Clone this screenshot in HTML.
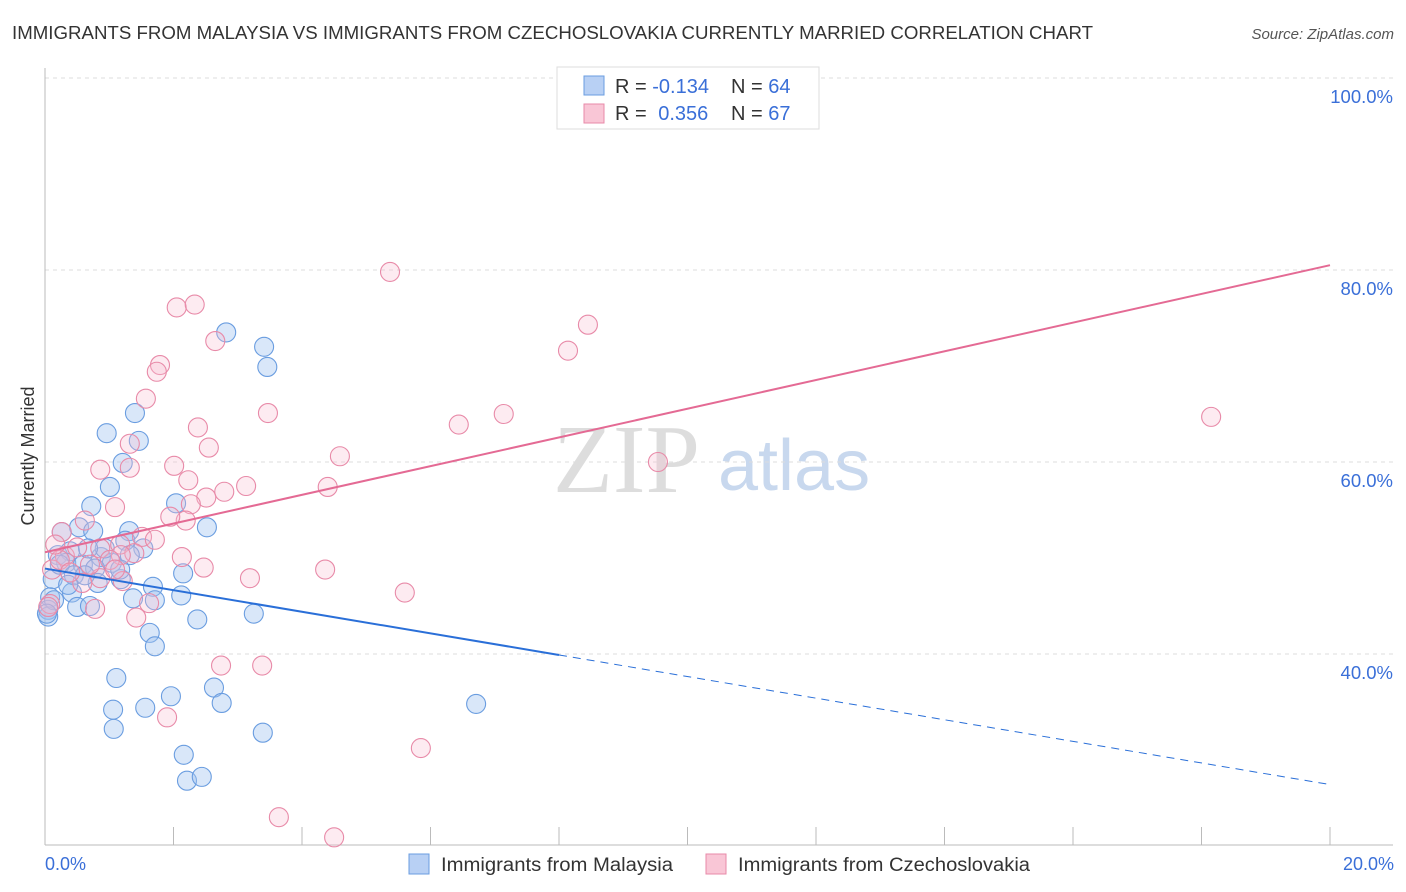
<!DOCTYPE html>
<html><head><meta charset="utf-8"><style>
body{margin:0;background:#fff;font-family:"Liberation Sans",sans-serif;}
svg{display:block}
</style></head><body>
<svg id="c" width="1406" height="892" xmlns="http://www.w3.org/2000/svg">
<text x="12" y="39" font-size="18" fill="#333" textLength="1081" lengthAdjust="spacingAndGlyphs">IMMIGRANTS FROM MALAYSIA VS IMMIGRANTS FROM CZECHOSLOVAKIA CURRENTLY MARRIED CORRELATION CHART</text>
<text x="1394" y="39" font-size="15" fill="#555" font-style="italic" text-anchor="end">Source: ZipAtlas.com</text>
<g>
<text x="553" y="492" font-size="98" font-family="Liberation Serif,serif" fill="#ddd">ZIP</text>
<text x="718" y="490" font-size="72" fill="#c8d8ee">atlas</text>
</g>
<g id="grid"></g>
<g id="axes"></g>
<g id="pts"></g>
<g id="trend"></g>
<text transform="translate(34,456) rotate(-90)" font-size="18" fill="#333" text-anchor="middle">Currently Married</text>
<text x="45" y="870" font-size="18" fill="#3a6fd8">0.0%</text>
<text x="1394" y="870" font-size="18" fill="#3a6fd8" text-anchor="end">20.0%</text>
<g>
<rect x="557" y="67" width="262" height="62" fill="#fff" stroke="#ddd"/>
<rect x="584" y="76" width="20" height="19" fill="#b8d0f4" stroke="#6a9de0"/>
<rect x="584" y="104" width="20" height="19" fill="#f9c6d6" stroke="#e88aa8"/>
<text x="615" y="93" font-size="20" fill="#333">R = <tspan fill="#3a6fd8">-0.134</tspan></text>
<text x="731" y="93" font-size="20" fill="#333">N = <tspan fill="#3a6fd8">64</tspan></text>
<text x="615" y="120" font-size="20" fill="#333">R = <tspan fill="#3a6fd8" dx="6">0.356</tspan></text>
<text x="731" y="120" font-size="20" fill="#333">N = <tspan fill="#3a6fd8">67</tspan></text>
</g>
<g>
<rect x="409" y="854" width="20" height="20" fill="#b8d0f4" stroke="#6a9de0"/>
<text x="441" y="871" font-size="19" fill="#333" textLength="232" lengthAdjust="spacingAndGlyphs">Immigrants from Malaysia</text>
<rect x="706" y="854" width="20" height="20" fill="#f9c6d6" stroke="#e88aa8"/>
<text x="738" y="871" font-size="19" fill="#333" textLength="292" lengthAdjust="spacingAndGlyphs">Immigrants from Czechoslovakia</text>
</g>
</svg>
<script>
const yTicks=[40,60,80,100];
const yTickLabels=["40.0%","60.0%","80.0%","100.0%"];
const blueX=[2.82,3.41,3.46,1.40,0.96,1.46,1.21,1.01,0.72,2.04,2.52,0.53,0.75,1.31,1.25,1.53,0.20,0.39,0.87,1.04,0.33,0.59,0.78,1.18,0.12,2.15,1.68,0.82,2.12,0.42,0.08,1.37,1.71,0.50,0.70,0.05,0.05,2.37,3.25,1.63,1.71,1.11,1.96,2.63,1.06,1.56,2.75,1.07,3.39,2.16,2.21,2.44,6.71,0.23,0.45,0.93,0.67,0.26,1.32,0.14,0.03,1.17,0.62,0.36];
const blueY=[73.5,72.0,69.9,65.1,63.0,62.2,59.9,57.4,55.4,55.7,53.2,53.2,52.8,52.8,51.8,51.0,50.3,50.7,50.1,49.5,49.5,49.3,48.9,47.8,47.8,48.4,47.0,47.4,46.1,46.4,45.9,45.8,45.6,44.9,45.0,44.6,43.9,43.6,44.2,42.2,40.8,37.5,35.6,36.5,34.2,34.4,34.9,32.2,31.8,29.5,26.8,27.2,34.8,49.3,48.2,51.0,51.0,52.7,50.3,45.6,44.2,48.8,48.2,47.2];
const pinkX=[5.37,2.05,2.33,8.45,2.65,8.14,1.79,1.74,1.57,3.47,7.14,6.44,2.38,18.15,2.55,1.32,4.59,0.86,2.01,9.54,1.32,2.23,4.40,3.13,2.79,2.51,1.09,2.27,2.19,1.95,0.62,0.26,1.51,1.17,0.86,1.39,0.31,2.13,1.18,0.50,4.36,2.47,3.19,0.86,1.21,0.58,0.11,5.60,1.62,0.78,0.08,1.42,2.74,3.38,1.90,5.85,3.64,4.50,11.38,0.05,0.23,0.70,1.01,0.39,1.09,0.16,1.71];
const pinkY=[79.8,76.1,76.4,74.3,72.6,71.6,70.1,69.4,66.6,65.1,65.0,63.9,63.6,64.7,61.5,61.9,60.6,59.2,59.6,60.0,59.4,58.1,57.4,57.5,56.9,56.3,55.3,55.6,53.9,54.3,53.9,52.7,52.2,51.4,51.0,50.5,50.2,50.1,50.3,51.1,48.8,49.0,47.9,47.9,47.6,47.4,48.8,46.4,45.3,44.7,45.2,43.8,38.8,38.8,33.4,30.2,23.0,20.9,99.8,44.9,49.8,49.3,49.8,48.5,48.8,51.4,51.9];
const blueTrend=[48.9,26.4];
const pinkTrend=[50.6,80.5];
const NS="http://www.w3.org/2000/svg";
const X0=45,X1=1330,Y40=654,PXPER=9.6;
function sx(v){return X0+(X1-X0)*v/20;}
function sy(v){return Y40-(v-40)*PXPER;}
function mk(t,a,p){const e=document.createElementNS(NS,t);for(const k in a)e.setAttribute(k,a[k]);p.appendChild(e);return e;}
const grid=document.getElementById('grid'),axes=document.getElementById('axes');
yTicks.forEach((t,i)=>{
 const l=mk('line',{x1:X0,x2:1393,y1:sy(t),y2:sy(t),stroke:'#ddd','stroke-dasharray':'4,4'},grid);
 
 
 const tx=mk('text',{x:1393,y:sy(t)+25,'font-size':18.5,fill:'#3a6fd8','text-anchor':'end'},axes);
 tx.textContent=yTickLabels[i];
 
 
});
const ya=mk('line',{x1:X0,x2:X0,y1:68,y2:845,stroke:'#bbb'},axes);


const xa=mk('line',{x1:X0,x2:1393,y1:845,y2:845,stroke:'#bbb'},axes);


for(let k=0;k<=20;k+=2){const t=mk('line',{x1:sx(k),x2:sx(k),y1:827,y2:845,stroke:'#bbb'},axes);
 
 }
const pts=document.getElementById('pts');
blueX.forEach((x,i)=>{const c=mk('circle',{cx:sx(x),cy:sy(blueY[i]),r:9.5,fill:'rgba(160,196,240,0.4)',stroke:'#6a9de0','stroke-width':1.1},pts);
 
 });
pinkX.forEach((x,i)=>{const c=mk('circle',{cx:sx(x),cy:sy(pinkY[i]),r:9.5,fill:'rgba(248,190,208,0.3)',stroke:'#e88aa8','stroke-width':1.1},pts);
 
 });
const tr=document.getElementById('trend');
const bAt=v=>blueTrend[0]+(blueTrend[1]-blueTrend[0])*v/20;
const bs=mk('line',{x1:sx(0),y1:sy(bAt(0)),x2:sx(8),y2:sy(bAt(8)),stroke:'#2a6fd8','stroke-width':2},tr);


const bd=mk('line',{x1:sx(8),y1:sy(bAt(8)),x2:sx(20),y2:sy(bAt(20)),stroke:'#2a6fd8','stroke-width':1,'stroke-dasharray':'8,6'},tr);


const pl=mk('line',{x1:sx(0),y1:sy(pinkTrend[0]),x2:sx(20),y2:sy(pinkTrend[1]),stroke:'#e46a94','stroke-width':2},tr);


</script>
</body></html>
